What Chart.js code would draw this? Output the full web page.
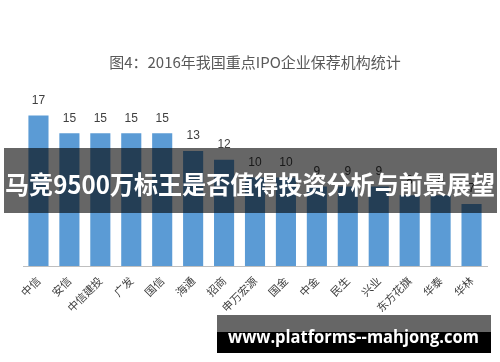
<!DOCTYPE html>
<html>
<head>
<meta charset="utf-8">
<script src="https://cdn.jsdelivr.net/npm/chart.js@4/dist/chart.umd.min.js"></script>
<style>
  html, body { margin: 0; padding: 0; background: #ffffff; }
  #wrap { position: relative; width: 500px; height: 362px; overflow: hidden; }
  #c { position: absolute; left: 0; top: 0; }
  #ov { position: absolute; left: 0; top: 0; pointer-events: none; }
</style>
</head>
<body>
<div id="wrap">
  <canvas id="c" width="500" height="362"></canvas>
  <svg id="ov" width="500" height="362" xmlns="http://www.w3.org/2000/svg">
    <rect x="4" y="148" width="493" height="65" fill="rgba(0,0,0,0.6)"/>
    <text x="5" y="182.5" dominant-baseline="central" textLength="490" lengthAdjust="spacingAndGlyphs"
          font-family="Noto Sans CJK SC" font-weight="bold" font-size="25" fill="#ffffff">马竞9500万标王是否值得投资分析与前景展望</text>
    <rect x="217" y="315" width="274" height="17" fill="#666666"/>
    <rect x="217" y="332" width="274" height="21" fill="#000000"/>
    <text x="228" y="342.5" textLength="251" lengthAdjust="spacingAndGlyphs"
          font-family="Open Sans" font-weight="bold" font-size="18" fill="#ffffff">www.platforms--mahjong.com</text>
  </svg>
</div>
<script>
const titleText = "图4：2016年我国重点IPO企业保荐机构统计";
const categories = ["中信","安信","中信建投","广发","国信","海通","招商","申万宏源","国金","中金","民生","兴业","东方花旗","华泰","华林"];
const counts = [17,15,15,15,15,13,12,10,10,9,9,9,8,8,7];

const valueLabels = {
  id: 'valueLabels',
  afterDatasetsDraw(chart) {
    const ctx = chart.ctx;
    const meta = chart.getDatasetMeta(0);
    ctx.save();
    ctx.font = '12px "Liberation Sans", Arial, sans-serif';
    ctx.fillStyle = '#404040';
    ctx.textAlign = 'center';
    ctx.textBaseline = 'bottom';
    meta.data.forEach((bar, i) => {
      ctx.fillText(String(counts[i]), bar.x, bar.y - 9);
    });
    ctx.restore();
  }
};

new Chart(document.getElementById('c'), {
  type: 'bar',
  data: {
    labels: categories,
    datasets: [{
      data: counts,
      backgroundColor: '#5b9bd5',
      borderWidth: 0,
      categoryPercentage: 1,
      barPercentage: 0.65
    }]
  },
  options: {
    responsive: false,
    animation: false,
    devicePixelRatio: 1,
    layout: { padding: { left: 23, right: 13, top: 53, bottom: 47.5 } },
    plugins: {
      legend: { display: false },
      tooltip: { enabled: false },
      title: {
        display: true,
        text: titleText,
        color: '#595959',
        font: { family: 'Noto Sans CJK SC', size: 15, weight: 'normal' },
        padding: { top: 0, bottom: 18 }
      }
    },
    scales: {
      x: {
        grid: { display: false },
        border: { display: true, color: '#bfbfbf', width: 1 },
        ticks: {
          color: '#404040',
          font: { family: 'Noto Sans CJK SC', size: 11 },
          maxRotation: 45,
          minRotation: 45,
          padding: 0,
          autoSkip: false
        }
      },
      y: {
        display: false,
        min: 0,
        max: 20
      }
    }
  },
  plugins: [valueLabels]
});
</script>
</body>
</html>
